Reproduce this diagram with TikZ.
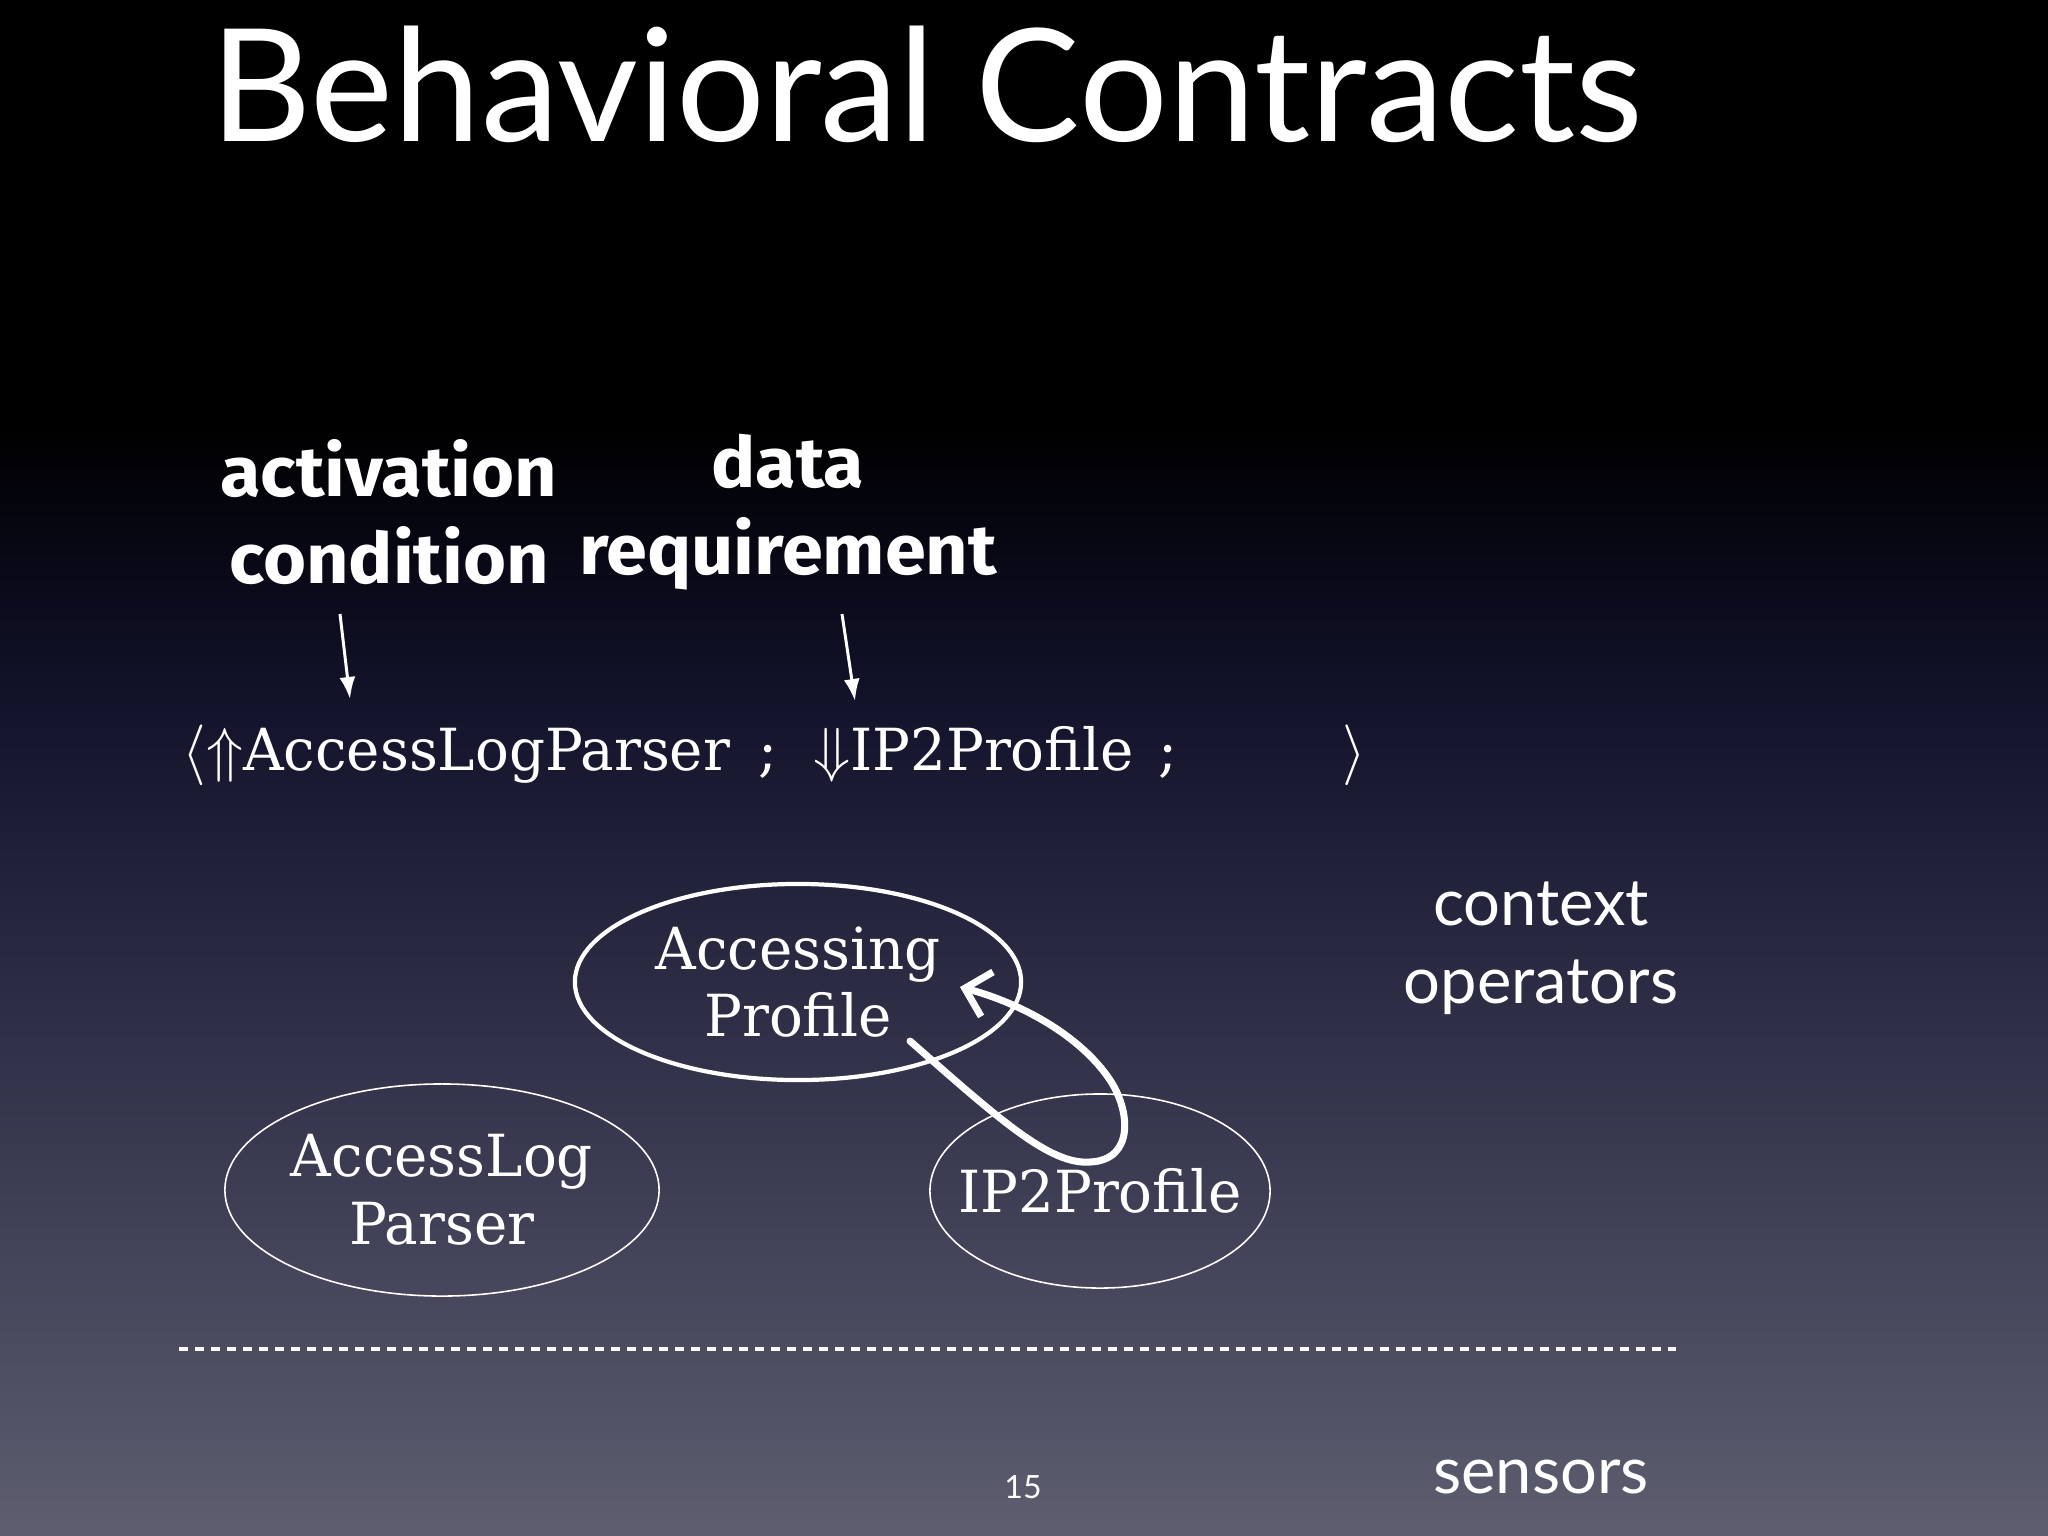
\documentclass[tikz,border=0pt]{standalone}
\usepackage{fontspec}
\usepackage{amsmath,amssymb}
\usetikzlibrary{shapes.geometric,arrows.meta}

\newfontfamily\gillfont{Lato}
\newfontfamily\handfont{Fira Sans}[FakeStretch=1.05]
\newfontfamily\typefont{DejaVu Serif}[FakeStretch=0.97]

\definecolor{bgA}{RGB}{94,94,112}
\definecolor{bgB}{RGB}{62,62,85}
\definecolor{bgC}{RGB}{40,40,65}
\definecolor{bgD}{RGB}{20,20,45}
\definecolor{bgE}{RGB}{8,8,22}
\pgfdeclareverticalshading{slidebg}{100bp}{color(0bp)=(bgA); color(25bp)=(bgA); color(35.9bp)=(bgB); color(44.1bp)=(bgC); color(51.6bp)=(bgD); color(56.8bp)=(bgE); color(61.3bp)=(black); color(100bp)=(black)}

\begin{document}
\begin{tikzpicture}[x=0.01cm,y=-0.01cm,
    title/.style={text=white,font={\gillfont\fontsize{44.6}{50}\selectfont}},
    side/.style={text=white,align=center,font={\gillfont\fontsize{18.5}{22.2}\selectfont}},
    hand/.style={text=white,align=center,font={\handfont\bfseries\fontsize{20}{24.8}\selectfont}},
    typed/.style={text=white,align=center,font={\typefont\fontsize{16.5}{19.3}\selectfont}},
    op/.style={typed,ellipse,draw=white,inner sep=0pt,inner xsep=-3mm},
    pointer/.style={white,line width=0.85pt,-{Latex[length=2.2mm,width=1.6mm]}}]

            \shade[shading=slidebg] (0,0) rectangle (2048,1536);
            \useasboundingbox (0,0) rectangle (2048,1536);

            \node[title,anchor=base west] (head) at (198,141) {Behavioral Contracts};

            \node[hand] (act) at (389,512) {activation\\condition};
            \node[hand] (req) at (788,512) {data\\requirement};

            \node[typed,anchor=base west] (contract) at (170,770)
              {$\langle\Uparrow$AccessLogParser\hspace{0.28cm};\hspace{0.36cm}$\Downarrow$IP2Profile\hspace{0.25cm};\hspace{1.65cm}$\rangle$};

            \coordinate (acttail) at (340,614);
            \coordinate (acttip) at (350,699);
            \coordinate (reqtail) at (842,614);
            \coordinate (reqtip) at (855,701);
            \draw[pointer] (acttail) -- (acttip);
            \draw[pointer] (reqtail) -- (reqtip);

            \node[op,line width=1.2pt,minimum width=4.46cm,minimum height=1.96cm] (ap) at (798,982) {Accessing\\Profile};
            \node[op,line width=0.45pt,minimum width=4.34cm,minimum height=2.12cm] (alp) at (442,1190) {AccessLog\\Parser};
            \node[op,line width=0.45pt,minimum width=3.4cm,minimum height=1.94cm] (ipp) at (1100,1191) {IP2Profile};

            \coordinate (loopout) at (910,1041);
            \coordinate (loopin) at (960,987);
            \draw[white,line width=2pt,line cap=round,-{Straight Barb[length=2.3mm,width=4.6mm]}]
              (loopout) .. controls (1000,1120) and (1050,1165) .. (1090,1162)
              .. controls (1135,1160) and (1130,1110) .. (1110,1080)
              .. controls (1080,1035) and (1020,1003) .. (loopin);

            \coordinate (lineL) at (179,1349);
            \coordinate (lineR) at (1676,1349);
            \draw[white,line width=0.9pt,dash pattern=on 0.9mm off 0.7mm] (lineL) -- (lineR);

            \node[side] (ctx) at (1541,948) {context\\operators};
            \node[side,anchor=base] (sens) at (1541,1493) {sensors};
            \node[text=white,font={\gillfont\fontsize{9.1}{11}\selectfont},anchor=base] (page) at (1023,1498) {15};
        \end{tikzpicture}
\end{document}
